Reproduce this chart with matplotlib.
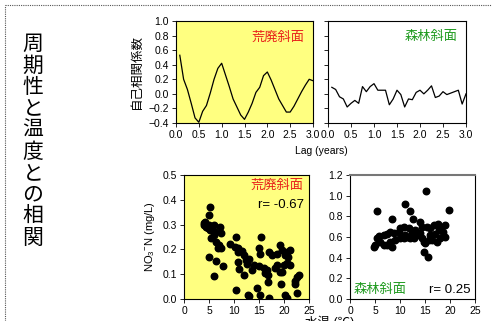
import matplotlib
matplotlib.use("Agg")
import matplotlib.pyplot as plt
from matplotlib.lines import Line2D
import numpy as np

plt.rcParams['font.family'] = ['Liberation Sans', 'Noto Sans CJK JP', 'DejaVu Sans']
plt.rcParams['mathtext.fontset'] = 'custom'
plt.rcParams['mathtext.rm'] = 'Liberation Sans'

# autocorrelation, monthly lags (years)
lag = np.arange(1, 37) / 12
acf_bare = [0.53, 0.20, 0.06, -0.13, -0.33, -0.39, -0.24, -0.16, 0.01, 0.20, 0.35, 0.42,
            0.26, 0.10, -0.07, -0.18, -0.29, -0.35, -0.25, -0.13, 0.02, 0.09, 0.25, 0.30,
            0.19, 0.06, -0.07, -0.16, -0.25, -0.25, -0.17, -0.07, 0.03, 0.12, 0.20, 0.18]
acf_forest = [0.09, 0.06, -0.04, -0.07, -0.18, -0.13, -0.09, -0.13, 0.10, 0.03, 0.10, 0.14,
              0.05, 0.05, 0.05, -0.15, -0.07, 0.05, -0.01, -0.18, -0.07, -0.08, 0.02, 0.05,
              0.00, 0.05, 0.11, -0.05, -0.03, 0.03, -0.01, 0.01, 0.03, 0.05, -0.14, 0.00]

# water temperature vs NO3-N
temp_bare = [5.2, 4.9, 4.2, 3.9, 4.3, 4.7, 5.2, 5.9, 6.2, 7.2, 7.3, 5.3, 5.9, 6.3, 6.9, 6.7,
             7.3, 5.0, 6.3, 7.7, 6.0, 9.2, 10.3, 10.2, 10.8, 10.7, 11.5, 11.9, 12.3, 10.7,
             11.0, 11.9, 10.3, 12.7, 4.0, 4.5, 5.6, 5.0,
             15.4, 14.9, 15.2, 12.9, 12.5, 13.9, 14.9, 15.9, 16.5, 16.7, 16.2, 13.5, 16.9,
             17.5, 18.5, 19.1, 19.5, 20.1, 20.5, 21.1, 20.7, 20.5, 21.1, 19.9, 19.5, 18.5,
             18.2, 19.1, 22.5, 22.9, 22.1, 22.2, 22.5, 19.4, 16.7, 14.5, 15.2, 12.9, 20.2,
             20.5, 16.9]
no3_bare = [0.37, 0.339, 0.312, 0.298, 0.292, 0.285, 0.278, 0.298, 0.271, 0.289, 0.265,
            0.245, 0.258, 0.231, 0.218, 0.204, 0.204, 0.171, 0.153, 0.133, 0.094, 0.220,
            0.249, 0.211, 0.207, 0.191, 0.193, 0.177, 0.157, 0.150, 0.119, 0.097, 0.036,
            0.016, 0.305, 0.300, 0.280, 0.300,
            0.251, 0.207, 0.183, 0.163, 0.143, 0.137, 0.134, 0.124, 0.117, 0.097, 0.103,
            0.117, 0.191, 0.177, 0.180, 0.217, 0.198, 0.177, 0.191, 0.198, 0.171, 0.144,
            0.137, 0.137, 0.110, 0.137, 0.124, 0.107, 0.090, 0.097, 0.073, 0.059, 0.023,
            0.059, 0.070, 0.046, 0.017, 0.013, 0.016, 0.003, 0.003]

temp_forest = [5.3, 11.0, 12.0, 19.7, 8.3, 12.5, 13.9, 14.3, 15.3, 16.0, 16.7, 17.5, 18.0,
               18.9, 17.7, 18.5, 19.0, 18.0, 17.0, 16.0, 15.7, 14.3, 14.7, 15.0, 14.0,
               13.3, 12.3, 11.7, 10.7, 10.0, 9.7, 8.7, 8.0, 7.3, 6.7, 5.7, 5.3, 6.0, 6.7,
               7.3, 8.3, 8.0, 9.0, 10.0, 10.7, 11.3, 12.0, 5.0, 4.8, 17.3, 16.3, 14.7,
               15.5, 11.0, 13.0, 12.7, 15.1]
no3_forest = [0.855, 0.92, 0.855, 0.858, 0.77, 0.775, 0.742, 0.70, 0.694, 0.684, 0.716,
              0.723, 0.70, 0.716, 0.668, 0.645, 0.604, 0.588, 0.626, 0.62, 0.571, 0.587,
              0.555, 0.539, 0.636, 0.62, 0.636, 0.684, 0.70, 0.684, 0.652, 0.636, 0.652,
              0.626, 0.62, 0.613, 0.587, 0.555, 0.523, 0.523, 0.507, 0.555, 0.571, 0.587,
              0.594, 0.604, 0.587, 0.523, 0.507, 0.555, 0.571, 0.458, 0.41, 0.62, 0.668,
              0.594, 1.048]

red = '#e8201a'
green = '#1e9a1e'
yellow = '#ffff80'
W, H = 492, 321

fig = plt.figure(figsize=(W / 100, H / 100), dpi=100)


def box(l, t, r, b):
    return [l / W, 1 - b / H, (r - l) / W, (b - t) / H]


def style(ax):
    ax.tick_params(labelsize=7.5, length=3, width=0.6, pad=2)
    for s in ax.spines.values():
        s.set_linewidth(0.8)


ax1 = fig.add_axes(box(176, 21, 313, 123))
ax1.set_facecolor(yellow)
ax1.plot(lag, acf_bare, color='black', lw=0.9)
ax1.set_xlim(0, 3)
ax1.set_ylim(-0.4, 1.0)
ax1.set_xticks(np.arange(0, 3.01, 0.5))
ax1.set_yticks(np.arange(-0.4, 1.01, 0.2))
ax1.xaxis.set_major_formatter('{x:.1f}')
ax1.yaxis.set_major_formatter('{x:.1f}')
ax1.text(0.94, 0.84, '荒廃斜面', color=red, fontsize=9.5, ha='right', va='center',
         transform=ax1.transAxes)
ax1.set_ylabel('自己相関係数', fontsize=9, labelpad=4)
style(ax1)

ax2 = fig.add_axes(box(328, 21, 466, 123))
ax2.plot(lag, acf_forest, color='black', lw=0.9)
ax2.set_xlim(0, 3)
ax2.set_ylim(-0.4, 1.0)
ax2.set_xticks(np.arange(0, 3.01, 0.5))
ax2.set_yticks(np.arange(-0.4, 1.01, 0.2))
ax2.xaxis.set_major_formatter('{x:.1f}')
ax2.set_yticklabels([])
ax2.text(0.94, 0.84, '森林斜面', color=green, fontsize=9.5, ha='right', va='center',
         transform=ax2.transAxes)
style(ax2)

fig.text(321 / W, 1 - 151 / H, 'Lag (years)', fontsize=7.5, ha='center', va='center')

ax3 = fig.add_axes(box(184, 175, 309, 299))
ax3.set_facecolor(yellow)
ax3.scatter(temp_bare, no3_bare, s=22, color='black', zorder=3)
ax3.set_xlim(0, 25)
ax3.set_ylim(0, 0.5)
ax3.set_xticks(np.arange(0, 26, 5))
ax3.set_yticks(np.arange(0, 0.51, 0.1))
ax3.yaxis.set_major_formatter('{x:.1f}')
ax3.text(0.96, 0.91, '荒廃斜面', color=red, fontsize=9.5, ha='right', va='center',
         transform=ax3.transAxes)
ax3.text(0.96, 0.76, 'r= -0.67', color='black', fontsize=9.5, ha='right', va='center',
         transform=ax3.transAxes)
ax3.set_ylabel('NO$_3$$^{-}$N (mg/L)', fontsize=8, labelpad=4)
style(ax3)

ax4 = fig.add_axes(box(350, 175, 475, 299))
ax4.scatter(temp_forest, no3_forest, s=22, color='black', zorder=3)
ax4.set_xlim(0, 25)
ax4.set_ylim(0, 1.2)
ax4.set_xticks(np.arange(0, 26, 5))
ax4.set_yticks(np.arange(0, 1.21, 0.2))
ax4.yaxis.set_major_formatter('{x:.1f}')
ax4.text(0.03, 0.07, '森林斜面', color=green, fontsize=9.5, ha='left', va='center',
         transform=ax4.transAxes)
ax4.text(0.96, 0.07, 'r= 0.25', color='black', fontsize=9.5, ha='right', va='center',
         transform=ax4.transAxes)
style(ax4)
ax4.spines['top'].set_color('#777777')
ax4.spines['top'].set_linewidth(1.5)

# x label of the scatter panels, cut by the lower edge as in the reference
fig.text(330 / W, 1 - 316 / H, '水温 (℃)', fontsize=9, ha='center', va='top')

# vertical title
title = '周期性と温度との相関'
for i, ch in enumerate(title):
    fig.text(33 / W, 1 - (44 + i * 21.5) / H, ch, fontsize=15, ha='center', va='center',
             family=['Noto Sans CJK JP'])

# dotted frame
fig.add_artist(Line2D([5 / W, 1], [1 - 5 / H, 1 - 5 / H], ls=(0, (1, 1)), lw=0.8, color='#555555'))
fig.add_artist(Line2D([5 / W, 5 / W], [0, 1 - 5 / H], ls=(0, (1, 1)), lw=0.8, color='#555555'))

fig.savefig('out.png', dpi=100)
